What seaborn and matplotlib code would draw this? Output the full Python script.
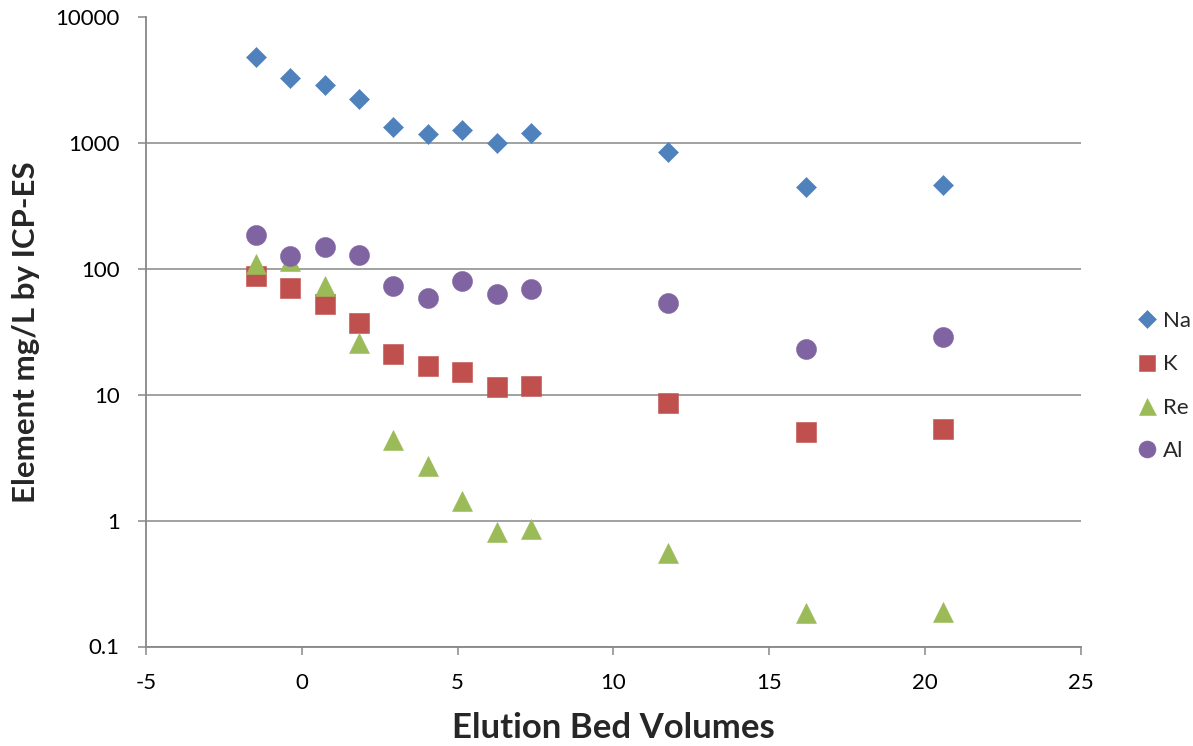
import matplotlib
matplotlib.use("Agg")
import matplotlib.pyplot as plt
from matplotlib.lines import Line2D
from matplotlib.ticker import FixedLocator, FixedFormatter, NullLocator
import seaborn as sns
import pandas as pd

# Elution profile: element concentrations vs. bed volumes
bed_volumes = [-1.47, -0.37, 0.73, 1.84, 2.94, 4.04, 5.15, 6.25, 7.35, 11.77, 16.18, 20.59]
na_mg_l = [4820, 3330, 2890, 2260, 1355, 1190, 1275, 1005, 1200, 850, 450, 470]
k_mg_l = [88, 71, 53, 37, 21, 17, 15.3, 11.6, 11.7, 8.7, 5.1, 5.35]
re_mg_l = [110, 115, 74, 25.7, 4.4, 2.7, 1.43, 0.82, 0.855, 0.55, 0.184, 0.189]
al_mg_l = [187, 128, 151, 129, 74, 59, 80, 63, 69, 53.5, 23, 28.7]

elements = ["Na", "K", "Re", "Al"]
x_ticks = [-5, 0, 5, 10, 15, 20, 25]
y_ticks = [0.1, 1, 10, 100, 1000, 10000]
y_tick_labels = ["0.1", "1", "10", "100", "1000", "10000"]

sns.set_style("white")
plt.rcParams["font.family"] = ["Lato", "DejaVu Sans"]

series = {"Na": na_mg_l, "K": k_mg_l, "Re": re_mg_l, "Al": al_mg_l}
colors = {"Na": "#4F81BD", "K": "#C0504D", "Re": "#9BBB59", "Al": "#8064A2"}
markers = {"Na": "D", "K": "s", "Re": "^", "Al": "o"}
msize = {"Na": 10.2, "K": 14.2, "Re": 14.4, "Al": 14.4}

fig = plt.figure(figsize=(11.93, 7.46), dpi=100)
ax = fig.add_axes([146 / 1193, 1 - 646.5 / 746, (1080.7 - 146) / 1193, (646.5 - 17.5) / 746])

for name in elements:
    df = pd.DataFrame({"bv": bed_volumes, "conc": series[name]})
    sns.scatterplot(data=df, x="bv", y="conc", ax=ax, marker=markers[name],
                    s=msize[name] ** 2, color=colors[name], edgecolor=colors[name],
                    linewidth=0.4, zorder=3, legend=False)

ax.set_yscale("log")
ax.set_xlim(-5, 25)
ax.set_ylim(0.1, 10000)

grid_gray = "#878787"
ax.yaxis.set_major_locator(FixedLocator(y_ticks))
ax.yaxis.set_major_formatter(FixedFormatter(y_tick_labels))
ax.yaxis.set_minor_locator(NullLocator())
ax.set_xticks(x_ticks)
ax.set_xticklabels([str(t) for t in x_ticks])

ax.grid(axis="y", color=grid_gray, linewidth=1.1, zorder=0)
ax.grid(axis="x", visible=False)
for side in ["top", "right"]:
    ax.spines[side].set_visible(False)
for side in ["left", "bottom"]:
    ax.spines[side].set_color(grid_gray)
    ax.spines[side].set_linewidth(1.3)

ax.tick_params(axis="both", which="major", direction="out", length=6, width=1.1,
               color=grid_gray, labelsize=16, labelcolor="black", pad=13)
ax.tick_params(axis="both", which="major", left=True, bottom=True)

ax.set_xlabel("Elution Bed Volumes", fontsize=25, fontweight="bold", labelpad=14)
ax.set_ylabel("Element mg/L by ICP-ES", fontsize=22.5, fontweight="bold", labelpad=11)

handles = [Line2D([], [], linestyle="none", marker=markers[n], color=colors[n],
                  markersize=msize[n] * 0.85, markeredgewidth=0.4) for n in elements]
fig.legend(handles, elements, loc="center left", bbox_to_anchor=(1127 / 1193, 1 - 386 / 746),
           frameon=False, fontsize=16, handlelength=1.0, handletextpad=0.2,
           labelspacing=1.05, borderaxespad=0)

fig.savefig("out.png", dpi=100, facecolor="white")
